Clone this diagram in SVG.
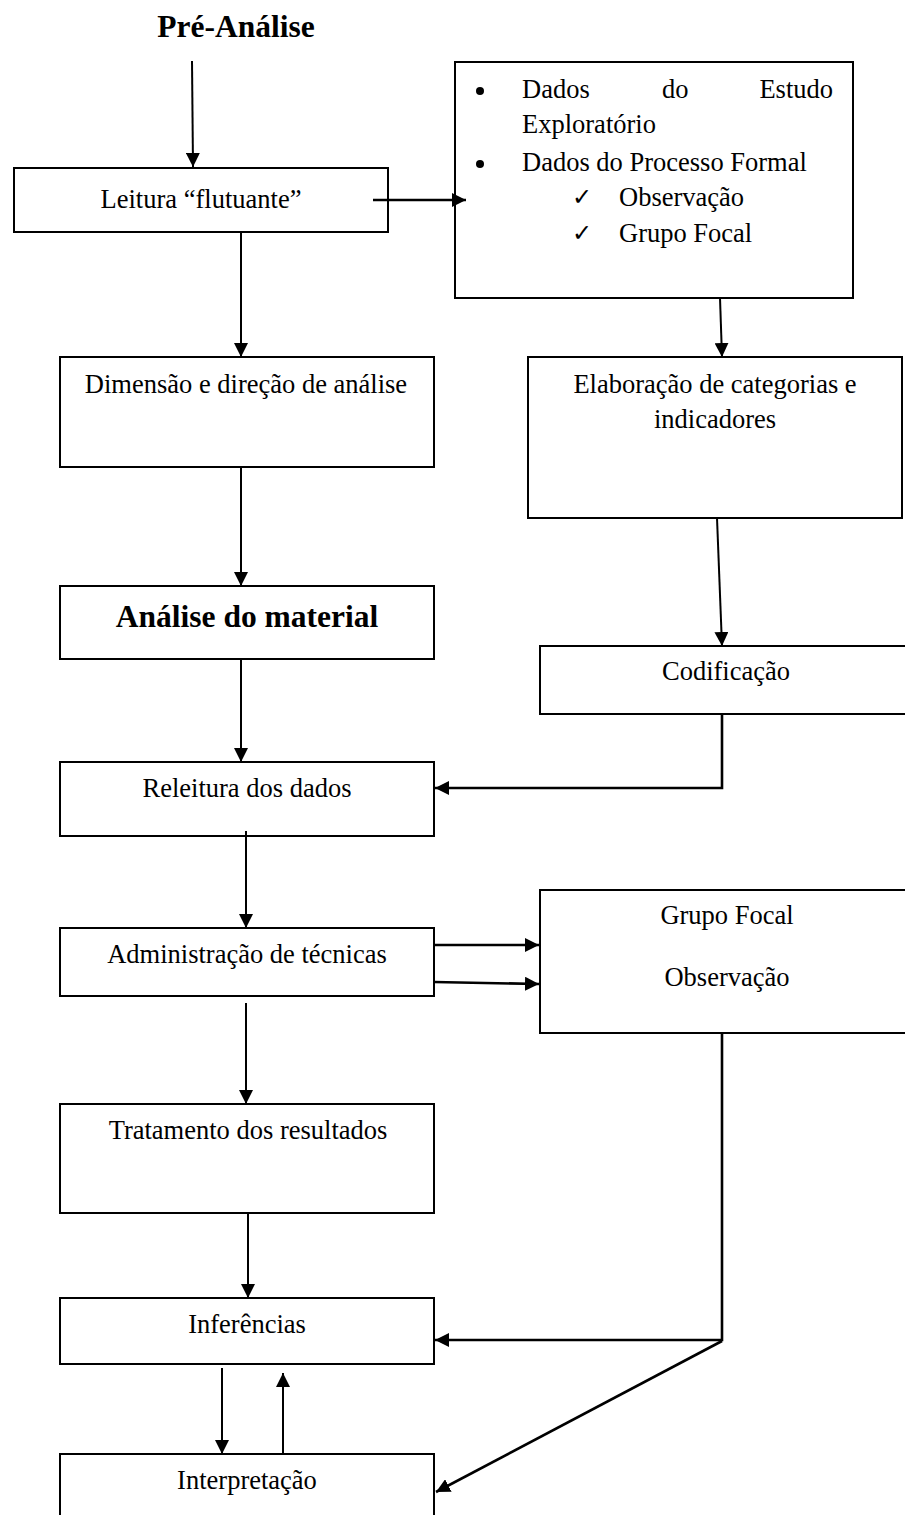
<svg xmlns="http://www.w3.org/2000/svg" width="905" height="1515" viewBox="0 0 905 1515">
<style>
.box{fill:#fff;stroke:#000;stroke-width:2}
.t{font-family:"Liberation Serif","Times New Roman",serif;font-size:26.5px;fill:#000}
.c{text-anchor:middle}
.b{font-weight:bold;font-size:31.5px}
.ck{font-family:"DejaVu Sans",sans-serif;font-size:24px;fill:#000}
.cn{fill:none;stroke:#000;stroke-width:2}
.th{stroke-width:2.6}
</style>
<defs>
<marker id="ah" viewBox="0 0 14 14" refX="14" refY="7" markerWidth="14" markerHeight="14" markerUnits="userSpaceOnUse" orient="auto">
<path d="M0,0 L14,7 L0,14 z" fill="#000"/>
</marker>
</defs>
<rect width="905" height="1515" fill="#fff"/>
<text id="title" class="t b c" x="236" y="37">Pré-Análise</text>

<g id="leitura"><rect class="box" x="14" y="168" width="374" height="64"/><text class="t c" x="201" y="208">Leitura “flutuante”</text></g>
<g id="dados"><rect class="box" x="455" y="62" width="398" height="236"/>
<circle cx="480" cy="91" r="4"/><circle cx="480" cy="164" r="4"/>
<text class="t" x="522" y="98">Dados</text><text class="t" x="662" y="98">do</text><text class="t" x="833" y="98" text-anchor="end">Estudo</text>
<text class="t" x="522" y="133">Exploratório</text>
<text class="t" x="522" y="171">Dados do Processo Formal</text>
<text class="ck" x="572" y="205">✓</text><text class="t" x="619" y="206">Observação</text>
<text class="ck" x="572" y="241">✓</text><text class="t" x="619" y="242">Grupo Focal</text>
</g>
<g id="dimensao"><rect class="box" x="60" y="357" width="374" height="110"/><text class="t c" x="246" y="393">Dimensão e direção de análise</text></g>
<g id="elaboracao"><rect class="box" x="528" y="357" width="374" height="161"/><text class="t c" x="715" y="393">Elaboração de categorias e</text><text class="t c" x="715" y="428">indicadores</text></g>
<g id="analise"><rect class="box" x="60" y="586" width="374" height="73"/><text class="t b c" x="247" y="627">Análise do material</text></g>
<g id="codificacao"><rect class="box" x="540" y="646" width="400" height="68"/><text class="t c" x="726" y="680">Codificação</text></g>
<g id="releitura"><rect class="box" x="60" y="762" width="374" height="74"/><text class="t c" x="247" y="797">Releitura dos dados</text></g>
<g id="administracao"><rect class="box" x="60" y="928" width="374" height="68"/><text class="t c" x="247" y="963">Administração de técnicas</text></g>
<g id="grupo"><rect class="box" x="540" y="890" width="400" height="143"/><text class="t c" x="727" y="924">Grupo Focal</text><text class="t c" x="727" y="986">Observação</text></g>
<g id="tratamento"><rect class="box" x="60" y="1104" width="374" height="109"/><text class="t c" x="248" y="1139">Tratamento dos resultados</text></g>
<g id="inferencias"><rect class="box" x="60" y="1298" width="374" height="66"/><text class="t c" x="247" y="1333">Inferências</text></g>
<g id="interpretacao"><rect class="box" x="60" y="1454" width="374" height="100"/><text class="t c" x="247" y="1489">Interpretação</text></g>

<g id="connectors">
<path class="cn" d="M192,61 L193,167" marker-end="url(#ah)"/>
<path class="cn th" d="M373,200 L466,200" marker-end="url(#ah)"/>
<path class="cn" d="M241,232 L241,357" marker-end="url(#ah)"/>
<path class="cn" d="M720,298 L722,357" marker-end="url(#ah)"/>
<path class="cn" d="M241,467 L241,586" marker-end="url(#ah)"/>
<path class="cn" d="M717,518 L722,646" marker-end="url(#ah)"/>
<path class="cn" d="M241,659 L241,762" marker-end="url(#ah)"/>
<path class="cn th" d="M722,714 L722,788 L435,788" marker-end="url(#ah)"/>
<path class="cn" d="M246,831 L246,928" marker-end="url(#ah)"/>
<path class="cn th" d="M434,945 L539,945" marker-end="url(#ah)"/>
<path class="cn th" d="M434,982 L539,984" marker-end="url(#ah)"/>
<path class="cn" d="M246,1003 L246,1104" marker-end="url(#ah)"/>
<path class="cn" d="M248,1213 L248,1298" marker-end="url(#ah)"/>
<path class="cn th" d="M722,1033 L722,1340 L435,1340" marker-end="url(#ah)"/>
<path class="cn th" d="M722,1341 L436,1492" marker-end="url(#ah)"/>
<path class="cn" d="M222,1368 L222,1454" marker-end="url(#ah)"/>
<path class="cn" d="M283,1454 L283,1373" marker-end="url(#ah)"/>
</g>
</svg>
